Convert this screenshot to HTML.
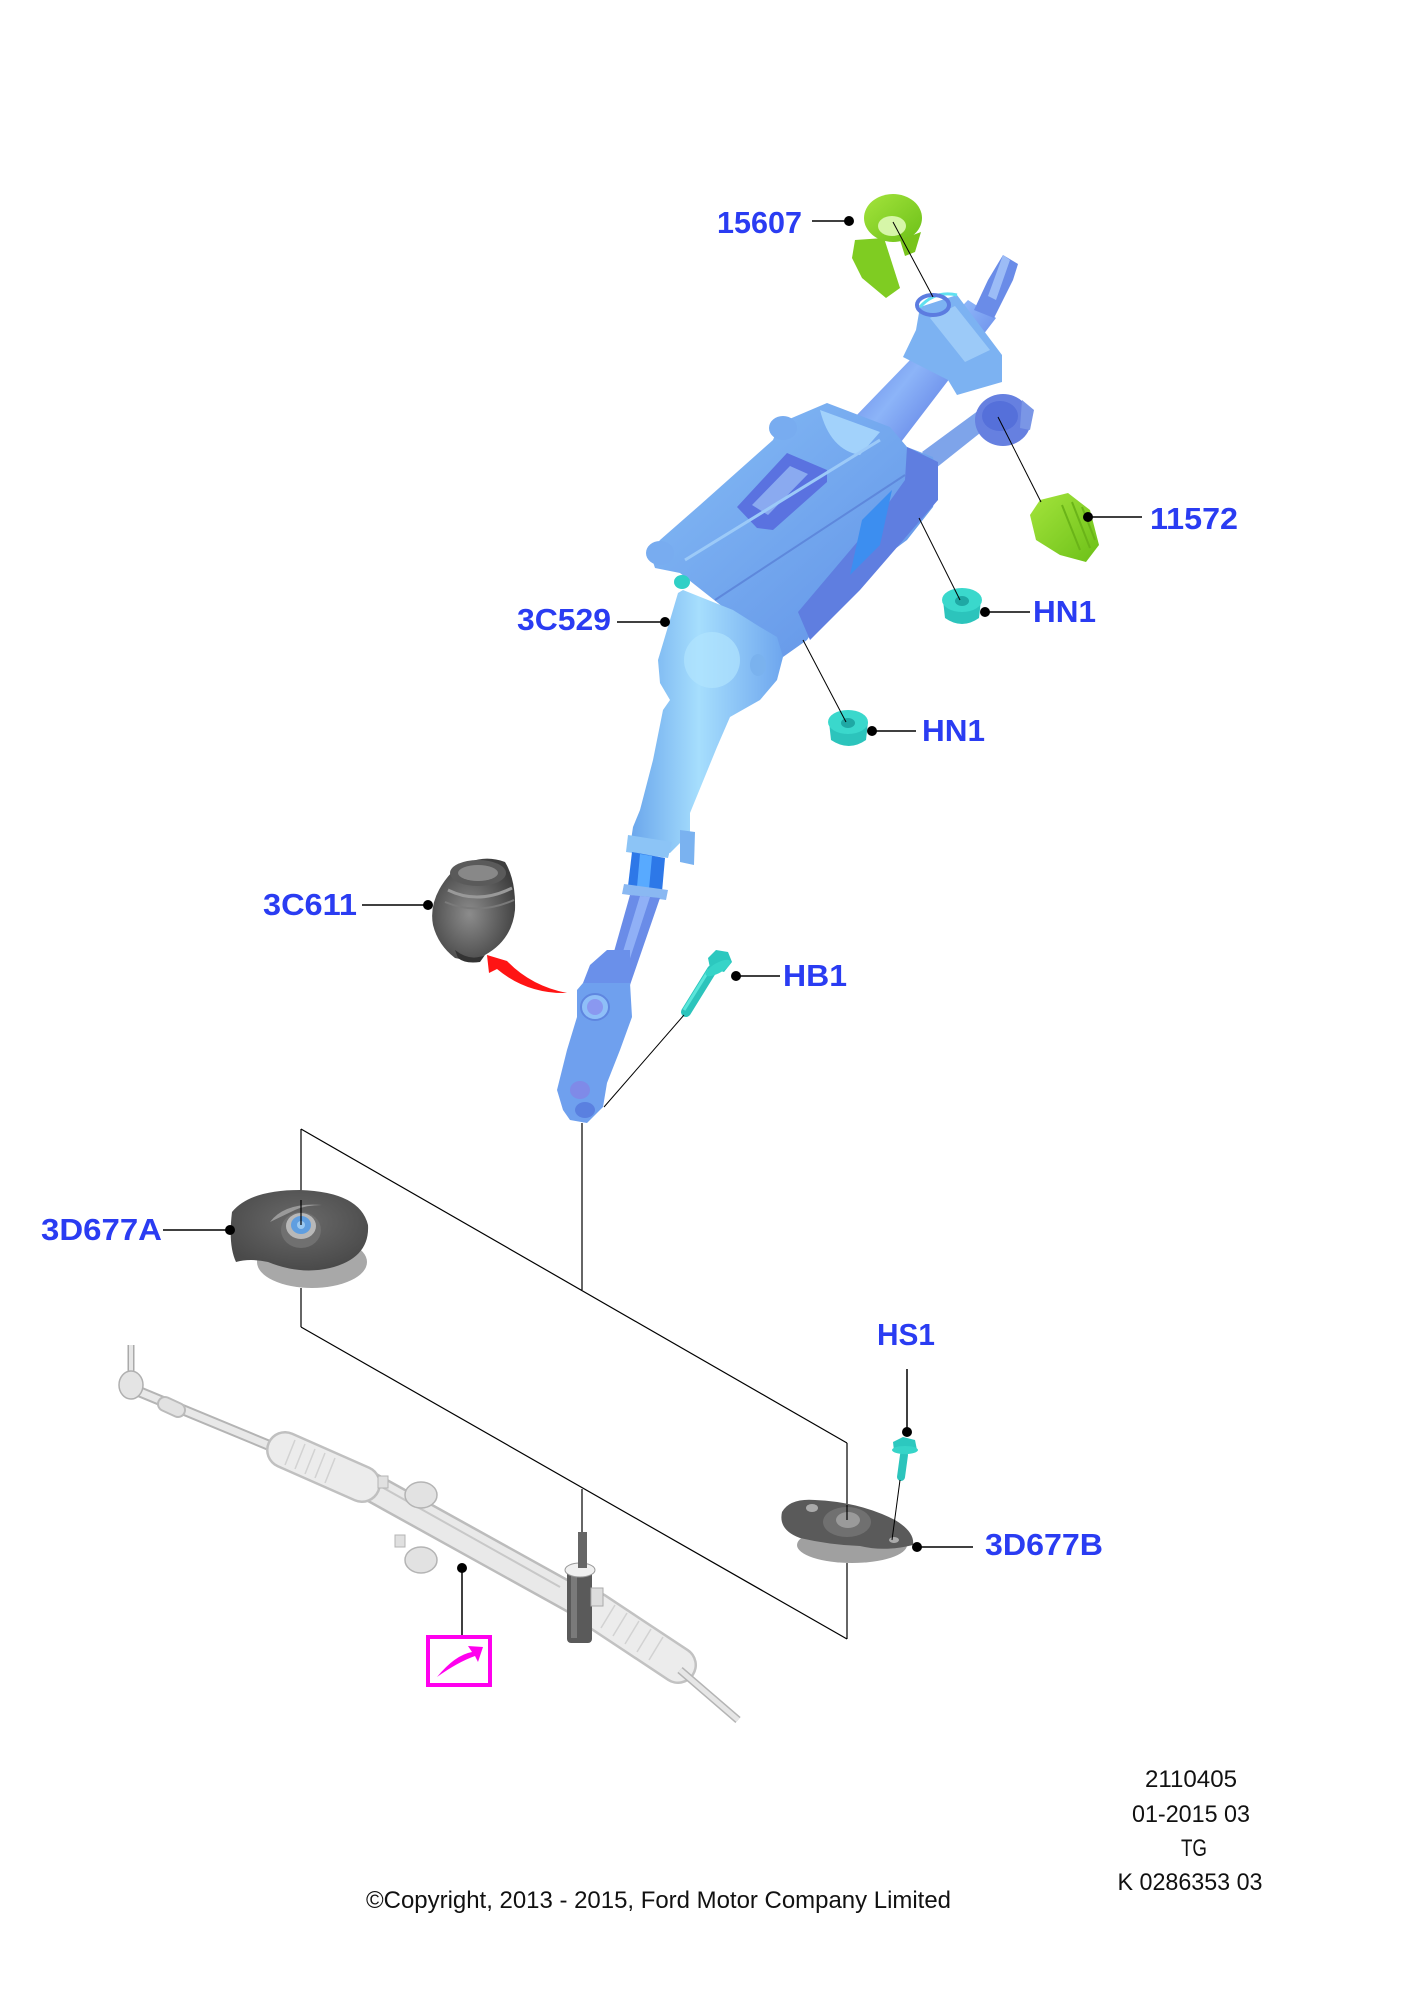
<!DOCTYPE html>
<html>
<head>
<meta charset="utf-8">
<style>
html,body{margin:0;padding:0;background:#fff;}
svg{display:block;}
.lbl{font-family:"Liberation Sans",Arial,sans-serif;font-weight:bold;font-size:31px;fill:#2a3cf2;}
.ft{font-family:"Liberation Sans",Arial,sans-serif;font-size:24px;fill:#111;}
</style>
</head>
<body>
<svg width="1409" height="2000" viewBox="0 0 1409 2000" xmlns="http://www.w3.org/2000/svg">
<defs>
  <linearGradient id="gShaft" x1="0" y1="0" x2="1" y2="0.8">
    <stop offset="0" stop-color="#4a66dc"/>
    <stop offset="0.5" stop-color="#8cb4f8"/>
    <stop offset="1" stop-color="#4a66dc"/>
  </linearGradient>
  <linearGradient id="gHousing" x1="0" y1="0" x2="1" y2="1">
    <stop offset="0" stop-color="#86bdf6"/>
    <stop offset="1" stop-color="#5f90e6"/>
  </linearGradient>
  <linearGradient id="gBody" x1="0" y1="0" x2="1" y2="0">
    <stop offset="0" stop-color="#6aa6ec"/>
    <stop offset="0.45" stop-color="#a6defd"/>
    <stop offset="1" stop-color="#6ea6ee"/>
  </linearGradient>
  <linearGradient id="gGreen" x1="0" y1="0" x2="1" y2="1">
    <stop offset="0" stop-color="#a4e43c"/>
    <stop offset="1" stop-color="#6cc018"/>
  </linearGradient>
  <radialGradient id="gBoot" cx="0.45" cy="0.55" r="0.6">
    <stop offset="0" stop-color="#8c8c8c"/>
    <stop offset="1" stop-color="#3e3e3e"/>
  </radialGradient>
  <radialGradient id="gMount" cx="0.5" cy="0.4" r="0.6">
    <stop offset="0" stop-color="#6a6a6a"/>
    <stop offset="1" stop-color="#4a4a4a"/>
  </radialGradient>
</defs>

<!-- ===== connector geometry lines ===== -->
<g stroke="#000" stroke-width="1.2" fill="none">
  <line x1="301" y1="1129" x2="301" y2="1200"/>
  <line x1="301" y1="1129" x2="847" y2="1443"/>
  <line x1="847" y1="1443" x2="847" y2="1520"/>
  <line x1="301" y1="1288" x2="301" y2="1327"/>
  <line x1="301" y1="1327" x2="847" y2="1639"/>
  <line x1="847" y1="1563" x2="847" y2="1639"/>
  <line x1="582" y1="1123" x2="582" y2="1290"/>
  <line x1="582" y1="1489" x2="582" y2="1532"/>
</g>

<!-- ===== Rack ===== -->
<g>
  <!-- left tie rod -->
  <line x1="131" y1="1345" x2="131" y2="1372" stroke="#aaa" stroke-width="7"/>
  <line x1="131" y1="1345" x2="131" y2="1372" stroke="#e6e6e6" stroke-width="4"/>
  <line x1="140" y1="1392" x2="285" y2="1452" stroke="#b4b4b4" stroke-width="11" stroke-linecap="round"/>
  <line x1="140" y1="1392" x2="285" y2="1452" stroke="#e8e8e8" stroke-width="7" stroke-linecap="round"/>
  <ellipse cx="131" cy="1385" rx="12" ry="14" fill="#e4e4e4" stroke="#b0b0b0" stroke-width="1.5"/>
  <line x1="165" y1="1404" x2="178" y2="1410" stroke="#bbb" stroke-width="16" stroke-linecap="round"/>
  <line x1="165" y1="1404" x2="178" y2="1410" stroke="#e2e2e2" stroke-width="12" stroke-linecap="round"/>
  <!-- main housing tube -->
  <line x1="355" y1="1478" x2="575" y2="1600" stroke="#bcbcbc" stroke-width="30" stroke-linecap="round"/>
  <line x1="355" y1="1478" x2="575" y2="1600" stroke="#e9e9e9" stroke-width="25" stroke-linecap="round"/>
  <line x1="380" y1="1486" x2="560" y2="1587" stroke="#c8c8c8" stroke-width="2"/>
  <!-- left boot -->
  <line x1="285" y1="1450" x2="362" y2="1484" stroke="#c0c0c0" stroke-width="38" stroke-linecap="round"/>
  <line x1="285" y1="1450" x2="362" y2="1484" stroke="#ececec" stroke-width="33" stroke-linecap="round"/>
  <g stroke="#d2d2d2" stroke-width="1.5">
    <line x1="295" y1="1440" x2="285" y2="1465"/>
    <line x1="305" y1="1444" x2="295" y2="1469"/>
    <line x1="315" y1="1449" x2="305" y2="1474"/>
    <line x1="325" y1="1453" x2="315" y2="1478"/>
    <line x1="335" y1="1458" x2="325" y2="1483"/>
  </g>
  <!-- brackets -->
  <ellipse cx="421" cy="1495" rx="16" ry="13" fill="#e2e2e2" stroke="#b4b4b4" stroke-width="1.5"/>
  <ellipse cx="421" cy="1560" rx="16" ry="13" fill="#e2e2e2" stroke="#b4b4b4" stroke-width="1.5"/>
  <rect x="378" y="1476" width="10" height="12" fill="#e0e0e0" stroke="#b4b4b4"/>
  <rect x="395" y="1535" width="10" height="12" fill="#e0e0e0" stroke="#b4b4b4"/>
  <!-- right boot -->
  <line x1="595" y1="1610" x2="678" y2="1665" stroke="#c2c2c2" stroke-width="38" stroke-linecap="round"/>
  <line x1="595" y1="1610" x2="678" y2="1665" stroke="#ececec" stroke-width="33" stroke-linecap="round"/>
  <g stroke="#d2d2d2" stroke-width="1.5">
    <line x1="615" y1="1605" x2="601" y2="1628"/>
    <line x1="627" y1="1613" x2="613" y2="1636"/>
    <line x1="639" y1="1621" x2="625" y2="1644"/>
    <line x1="651" y1="1629" x2="637" y2="1652"/>
    <line x1="663" y1="1637" x2="649" y2="1660"/>
  </g>
  <!-- right tie rod -->
  <line x1="680" y1="1670" x2="738" y2="1720" stroke="#b4b4b4" stroke-width="8"/>
  <line x1="680" y1="1670" x2="738" y2="1720" stroke="#e6e6e6" stroke-width="5"/>
  <!-- pinion tower -->
  <rect x="567" y="1565" width="25" height="78" rx="4" fill="#5a5a5a"/>
  <rect x="571" y="1570" width="6" height="68" fill="#7a7a7a"/>
  <ellipse cx="580" cy="1570" rx="15" ry="7" fill="#f0f0f0" stroke="#999"/>
  <rect x="578" y="1532" width="9" height="36" fill="#666"/>
  <rect x="591" y="1588" width="12" height="18" fill="#ddd" stroke="#aaa"/>
</g>

<!-- ===== Mount 3D677A ===== -->
<g>
  <ellipse cx="312" cy="1262" rx="55" ry="26" fill="#a8a8a8"/>
  <path d="M232,1212 Q250,1190 300,1190 Q360,1192 368,1225 Q370,1258 330,1268 Q300,1275 268,1262 Q250,1258 236,1262 Q228,1245 232,1212 Z" fill="url(#gMount)"/>
  <path d="M270,1222 Q285,1202 322,1205 Q306,1205 295,1210 Z" fill="#9a9a9a"/>
  <ellipse cx="301" cy="1230" rx="20" ry="18" fill="#707070"/>
  <ellipse cx="301" cy="1226" rx="15" ry="13" fill="#b8b8b8"/>
  <ellipse cx="301" cy="1225" rx="10" ry="9" fill="#5f9ee0"/>
  <ellipse cx="301" cy="1225" rx="4" ry="4" fill="#9ac8f0"/>
  <line x1="301" y1="1200" x2="301" y2="1225" stroke="#000" stroke-width="1.2"/>
</g>

<!-- ===== Mount 3D677B ===== -->
<g>
  <ellipse cx="852" cy="1545" rx="55" ry="18" fill="#a0a0a0"/>
  <path d="M782,1512 Q790,1498 815,1500 Q860,1502 895,1520 Q915,1532 913,1545 Q885,1552 860,1546 Q830,1545 800,1538 Q778,1530 782,1512 Z" fill="#5a5a5a"/>
  <ellipse cx="812" cy="1508" rx="6" ry="4" fill="#aaa"/>
  <ellipse cx="894" cy="1540" rx="5" ry="3" fill="#aaa"/>
  <ellipse cx="847" cy="1522" rx="24" ry="15" fill="#707070"/>
  <ellipse cx="848" cy="1520" rx="12" ry="8" fill="#9a9a9a"/>
  <line x1="847" y1="1505" x2="847" y2="1520" stroke="#000" stroke-width="1.2"/>
</g>

<!-- ===== Steering column ===== -->
<g>
  <!-- arm to 11572 ring -->
  <polygon points="922,452 990,402 1004,414 936,468" fill="#7ea4ea"/>
  <ellipse cx="1003" cy="420" rx="28" ry="26" fill="#6680e0"/>
  <ellipse cx="1000" cy="416" rx="18" ry="15" fill="#5570da"/>
  <polygon points="1022,400 1034,410 1030,430 1020,428" fill="#7a96e6"/>
  <!-- upper shaft -->
  <polygon points="968,300 996,318 898,446 852,420" fill="url(#gShaft)"/>
  <polygon points="1003,255 1018,264 1013,280 994,318 974,310 988,280" fill="#6a8ce8"/>
  <polygon points="1003,255 1010,260 996,300 988,296" fill="#9cbcf6"/>
  <!-- upper bracket -->
  <polygon points="920,307 957,295 1002,355 1002,382 957,395 948,380 903,357 916,330" fill="#7cb2f2"/>
  <polygon points="930,318 955,306 990,350 965,362" fill="#9ccaf8"/>
  <path d="M920,307 Q935,290 957,295" stroke="#60e0f0" stroke-width="3" fill="none"/>
  <ellipse cx="933" cy="305" rx="16" ry="10" fill="none" stroke="#5c7ce0" stroke-width="4"/>
  <!-- main housing -->
  <polygon points="650,553 660,540 700,505 773,440 780,423 827,403 890,427 907,447 933,457 938,487 933,507 907,540 840,590 807,640 783,657 740,640 723,607 680,573 655,568" fill="url(#gHousing)"/>
  <!-- ears -->
  <ellipse cx="660" cy="553" rx="14" ry="12" fill="#78acf0"/>
  <ellipse cx="783" cy="428" rx="14" ry="12" fill="#78acf0"/>
  <!-- top cone -->
  <path d="M820,410 Q830,450 860,455 L880,432 Z" fill="#a2d2fb"/>
  <!-- slots -->
  <polygon points="737,507 787,453 827,470 827,482 773,530 757,528" fill="#5a72e0"/>
  <polygon points="752,505 790,466 808,474 768,515" fill="#8aaaf0"/>
  <!-- side panel -->
  <polygon points="907,447 938,462 938,500 860,590 810,640 798,612 880,515 905,480" fill="#5f7ee0"/>
  <polygon points="862,520 892,490 880,545 850,575" fill="#3c8ef0"/>
  <!-- plate edge -->
  <line x1="685" y1="560" x2="880" y2="440" stroke="#9ccaf8" stroke-width="3"/>
  <line x1="715" y1="600" x2="905" y2="475" stroke="#5e88dc" stroke-width="2"/>
  <!-- lower body -->
  <polygon points="678,593 670,620 658,660 660,683 670,700 663,710 653,760 640,810 633,827 630,847 670,853 690,833 690,813 717,747 730,717 760,700 777,680 783,657 777,637 760,627 733,610 683,590" fill="url(#gBody)"/>
  <ellipse cx="712" cy="660" rx="28" ry="28" fill="#b0e4fe" opacity="0.7"/>
  <ellipse cx="758" cy="665" rx="8" ry="11" fill="#7ab2ee"/>
  <!-- collar bracket -->
  <polygon points="680,830 695,832 694,865 680,862" fill="#7ab2f0"/>
  <polygon points="628,835 672,842 668,858 626,852" fill="#8cc4f6"/>
  <!-- blue band -->
  <polygon points="632,852 665,858 662,892 628,886" fill="#2d78e8"/>
  <polygon points="640,854 652,856 649,889 637,887" fill="#58aaff"/>
  <polygon points="624,884 668,890 666,900 622,894" fill="#8ab8f2"/>
  <!-- thin shaft -->
  <polygon points="630,895 660,898 630,985 606,980" fill="#6a8ce8"/>
  <polygon points="640,896 650,897 622,983 614,981" fill="#90b0f6"/>
  <!-- U-joint -->
  <polygon points="607,950 630,950 630,983 583,983 590,965" fill="#6a90ea"/>
  <polygon points="583,983 630,983 632,1017 620,1050 607,1083 603,1107 587,1123 570,1120 563,1110 557,1090 567,1050 577,1017 577,990" fill="#6fa0ee"/>
  <ellipse cx="595" cy="1007" rx="14" ry="13" fill="#8fbff8" stroke="#5f86e0" stroke-width="2"/>
  <ellipse cx="595" cy="1007" rx="8" ry="8" fill="#8a98f0"/>
  <ellipse cx="580" cy="1090" rx="10" ry="9" fill="#7f8ae8"/>
  <ellipse cx="585" cy="1110" rx="10" ry="8" fill="#5a80e0"/>
</g>

<!-- ===== Green parts ===== -->
<g>
  <!-- 15607 -->
  <polygon points="855,240 884,238 900,288 886,298 862,278 852,258" fill="#7fcc22"/>
  <ellipse cx="893" cy="218" rx="29" ry="24" fill="url(#gGreen)"/>
  <ellipse cx="892" cy="226" rx="14" ry="10" fill="#d6f6a8"/>
  <polygon points="900,240 921,232 915,252 905,256" fill="#78c41c"/>
  <!-- 11572 -->
  <polygon points="1040,500 1068,493 1090,510 1099,545 1086,562 1060,555 1036,540 1030,515" fill="url(#gGreen)"/>
  <g stroke="#6ab418" stroke-width="2">
    <line x1="1062" y1="505" x2="1080" y2="550"/>
    <line x1="1072" y1="502" x2="1090" y2="548"/>
    <line x1="1082" y1="507" x2="1095" y2="540"/>
  </g>
</g>

<!-- ===== Cyan fasteners ===== -->
<g>
  <!-- HN1 upper -->
  <path d="M943,600 L945,618 Q962,630 979,618 L981,600 Z" fill="#2cc4bc"/>
  <ellipse cx="962" cy="600" rx="20" ry="12" fill="#3ad8cc"/>
  <ellipse cx="962" cy="601" rx="7" ry="5" fill="#1fa8a4"/>
  <!-- HN1 lower -->
  <path d="M829,722 L831,740 Q849,752 866,740 L868,722 Z" fill="#2cc4bc"/>
  <ellipse cx="848" cy="722" rx="20" ry="12" fill="#3ad8cc"/>
  <ellipse cx="848" cy="723" rx="7" ry="5" fill="#1fa8a4"/>
  <!-- small nut -->
  <ellipse cx="682" cy="582" rx="8" ry="7" fill="#30d0c6"/>
  <!-- HB1 bolt -->
  <line x1="712" y1="970" x2="686" y2="1012" stroke="#2cc4bc" stroke-width="10" stroke-linecap="round"/>
  <line x1="709" y1="970" x2="684" y2="1010" stroke="#5ae6da" stroke-width="3"/>
  <polygon points="708,958 716,950 728,952 732,962 724,972 710,968" fill="#2cc8bf"/>
  <ellipse cx="718" cy="968" rx="14" ry="5" fill="#36d4c8" transform="rotate(-30 718 968)"/>
  <!-- HS1 bolt -->
  <line x1="904" y1="1455" x2="901" y2="1477" stroke="#2cc4bc" stroke-width="8" stroke-linecap="round"/>
  <polygon points="893,1442 903,1437 915,1440 917,1450 906,1455 894,1451" fill="#2cc8bf"/>
  <ellipse cx="905" cy="1450" rx="13" ry="4" fill="#36d4c8"/>
</g>

<!-- ===== 3C611 boot ===== -->
<g>
  <path d="M452,872 Q478,852 505,862 Q516,880 515,910 Q512,940 485,955 Q470,962 455,958 Q438,945 433,925 Q428,898 452,872 Z" fill="url(#gBoot)"/>
  <ellipse cx="478" cy="873" rx="28" ry="13" fill="#5a5a5a"/>
  <ellipse cx="478" cy="873" rx="20" ry="8" fill="#888"/>
  <path d="M448,890 Q478,905 512,888" stroke="#999" stroke-width="3" fill="none"/>
  <path d="M445,902 Q478,916 514,900" stroke="#7a7a7a" stroke-width="2" fill="none"/>
  <path d="M455,950 Q470,962 485,955 L480,962 Q465,964 458,958 Z" fill="#333"/>
</g>

<!-- red arrow -->
<path d="M487,955 L507,961 Q531,986 567,993 Q527,994 497,969 L489,973 Z" fill="#ff1414"/>

<!-- ===== thin leader lines ===== -->
<g stroke="#000" stroke-width="1" fill="none">
  <line x1="893" y1="222" x2="933" y2="297"/>
  <line x1="998" y1="417" x2="1041" y2="502"/>
  <line x1="960" y1="600" x2="919" y2="518"/>
  <line x1="846" y1="722" x2="803" y2="640"/>
  <line x1="684" y1="1015" x2="604" y2="1107"/>
  <line x1="900" y1="1480" x2="892" y2="1540"/>
</g>

<!-- ===== label leaders ===== -->
<g stroke="#000" stroke-width="1.5">
  <line x1="812" y1="221" x2="849" y2="221"/>
  <line x1="1088" y1="517" x2="1142" y2="517"/>
  <line x1="985" y1="612" x2="1030" y2="612"/>
  <line x1="872" y1="731" x2="916" y2="731"/>
  <line x1="617" y1="622" x2="665" y2="622"/>
  <line x1="362" y1="905" x2="428" y2="905"/>
  <line x1="736" y1="976" x2="780" y2="976"/>
  <line x1="163" y1="1230" x2="230" y2="1230"/>
  <line x1="907" y1="1369" x2="907" y2="1432"/>
  <line x1="917" y1="1547" x2="973" y2="1547"/>
  <line x1="462" y1="1568" x2="462" y2="1635"/>
</g>
<g fill="#000">
  <circle cx="849" cy="221" r="5"/>
  <circle cx="1088" cy="517" r="5"/>
  <circle cx="985" cy="612" r="5"/>
  <circle cx="872" cy="731" r="5"/>
  <circle cx="665" cy="622" r="5"/>
  <circle cx="428" cy="905" r="5"/>
  <circle cx="736" cy="976" r="5"/>
  <circle cx="230" cy="1230" r="5"/>
  <circle cx="907" cy="1432" r="5"/>
  <circle cx="917" cy="1547" r="5"/>
  <circle cx="462" cy="1568" r="5"/>
</g>

<!-- pink box -->
<rect x="428" y="1637" width="62" height="48" fill="#fff" stroke="#ff00ee" stroke-width="4"/>
<path d="M437,1677 Q455,1655 472,1652 L468,1646 L483,1647 L478,1662 L475,1656 Q458,1662 437,1677 Z" fill="#ff00ee"/>

<!-- ===== labels ===== -->
<text class="lbl" x="717" y="233" textLength="85" lengthAdjust="spacingAndGlyphs">15607</text>
<text class="lbl" x="1150" y="529" textLength="88" lengthAdjust="spacingAndGlyphs">11572</text>
<text class="lbl" x="517" y="630" textLength="94" lengthAdjust="spacingAndGlyphs">3C529</text>
<text class="lbl" x="1033" y="622" textLength="63" lengthAdjust="spacingAndGlyphs">HN1</text>
<text class="lbl" x="922" y="741" textLength="63" lengthAdjust="spacingAndGlyphs">HN1</text>
<text class="lbl" x="263" y="915" textLength="94" lengthAdjust="spacingAndGlyphs">3C611</text>
<text class="lbl" x="783" y="986" textLength="64" lengthAdjust="spacingAndGlyphs">HB1</text>
<text class="lbl" x="41" y="1240" textLength="121" lengthAdjust="spacingAndGlyphs">3D677A</text>
<text class="lbl" x="877" y="1345" textLength="58" lengthAdjust="spacingAndGlyphs">HS1</text>
<text class="lbl" x="985" y="1555" textLength="118" lengthAdjust="spacingAndGlyphs">3D677B</text>

<!-- footer -->
<text class="ft" x="1191" y="1787" text-anchor="middle" textLength="92" lengthAdjust="spacingAndGlyphs">2110405</text>
<text class="ft" x="1191" y="1822" text-anchor="middle" textLength="118" lengthAdjust="spacingAndGlyphs">01-2015 03</text>
<text class="ft" x="1194" y="1856" text-anchor="middle" textLength="26" lengthAdjust="spacingAndGlyphs">TG</text>
<text class="ft" x="1190" y="1890" text-anchor="middle" textLength="145" lengthAdjust="spacingAndGlyphs">K 0286353 03</text>
<text class="ft" x="366" y="1908" textLength="585" lengthAdjust="spacingAndGlyphs">©Copyright, 2013 - 2015, Ford Motor Company Limited</text>
</svg>
</body>
</html>
